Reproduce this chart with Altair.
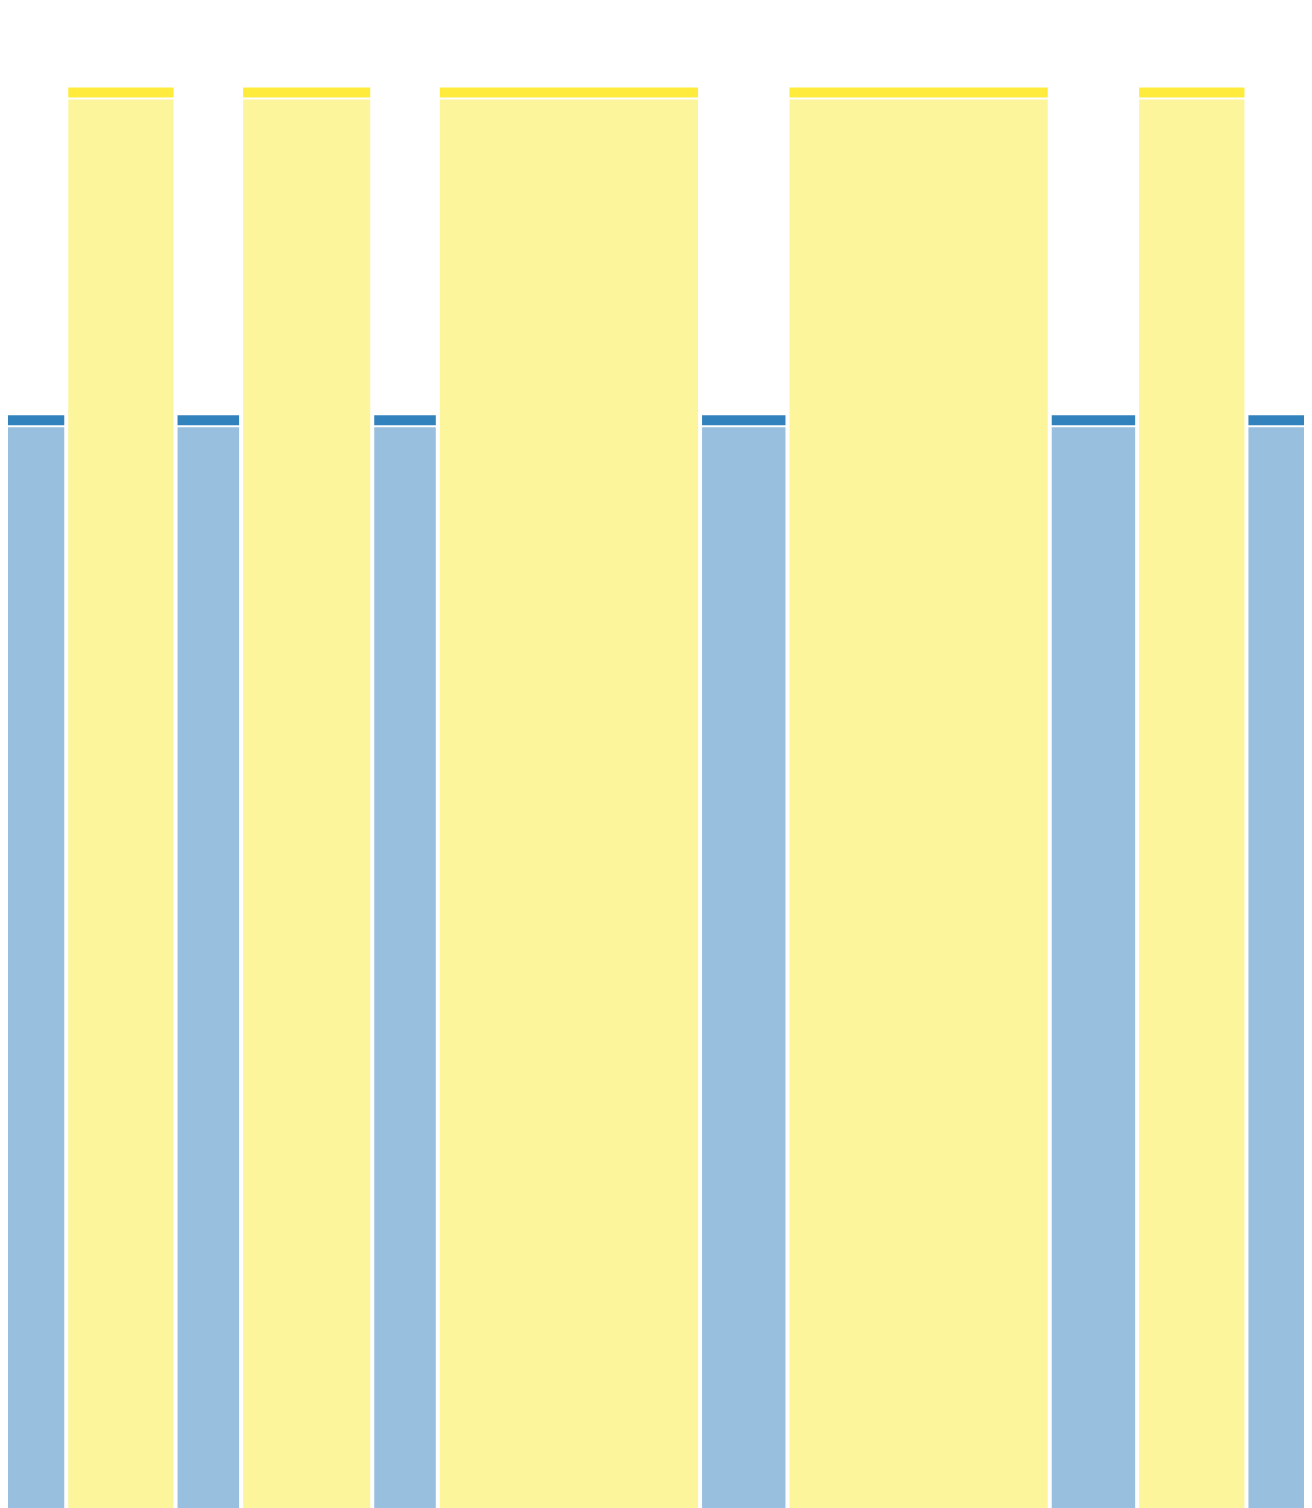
import altair as alt
import pandas as pd

# Segment lengths (units) and kind of each segment, left to right
durations = [3, 5, 3, 6, 3, 12, 4, 12, 4, 5, 3]
kinds = ["low", "high", "low", "high", "low", "high", "low", "high", "low", "high", "low"]
values = [77, 100, 77, 100, 77, 100, 77, 100, 77, 100, 77]

kind_domain = ["low", "high"]
cap_colors = ["#3182bd", "#ffeb3b"]
body_colors = ["#99bfdf", "#fdf59b"]

starts, ends = [], []
acc = 0
for d in durations:
    starts.append(acc)
    acc += d
    ends.append(acc)

df = pd.DataFrame({"start": starts, "end": ends, "kind": kinds, "value": values})

xs = alt.Scale(domain=[0.334, 59.634], nice=False, zero=False)
ys = alt.Scale(domain=[0.3, 105.5], nice=False, zero=False)

base = alt.Chart(df)

body = base.mark_bar(stroke="white", strokeWidth=2, xOffset=1, x2Offset=-1).encode(
    x=alt.X("start:Q", scale=xs, axis=None),
    x2="end:Q",
    y=alt.Y("value:Q", scale=ys, axis=None),
    y2=alt.Y2(datum=0),
    color=alt.Color("kind:N", scale=alt.Scale(domain=kind_domain, range=body_colors), legend=None),
)

cap = base.mark_bar(stroke="white", strokeWidth=2, xOffset=1, x2Offset=-1, y2Offset=12).encode(
    x=alt.X("start:Q", scale=xs, axis=None),
    x2="end:Q",
    y=alt.Y("value:Q", scale=ys, axis=None),
    y2=alt.Y2("value:Q"),
    fill=alt.Fill("kind:N", scale=alt.Scale(domain=kind_domain, range=cap_colors), legend=None),
)

chart = alt.layer(body, cap).resolve_scale(color="independent").properties(
    width=1296,
    height=1500,
    padding=0,
    autosize=alt.AutoSizeParams(type="none"),
    background="white",
).configure_view(stroke=None)

chart.save("out.html", embed_options={"renderer": "svg", "actions": False})
